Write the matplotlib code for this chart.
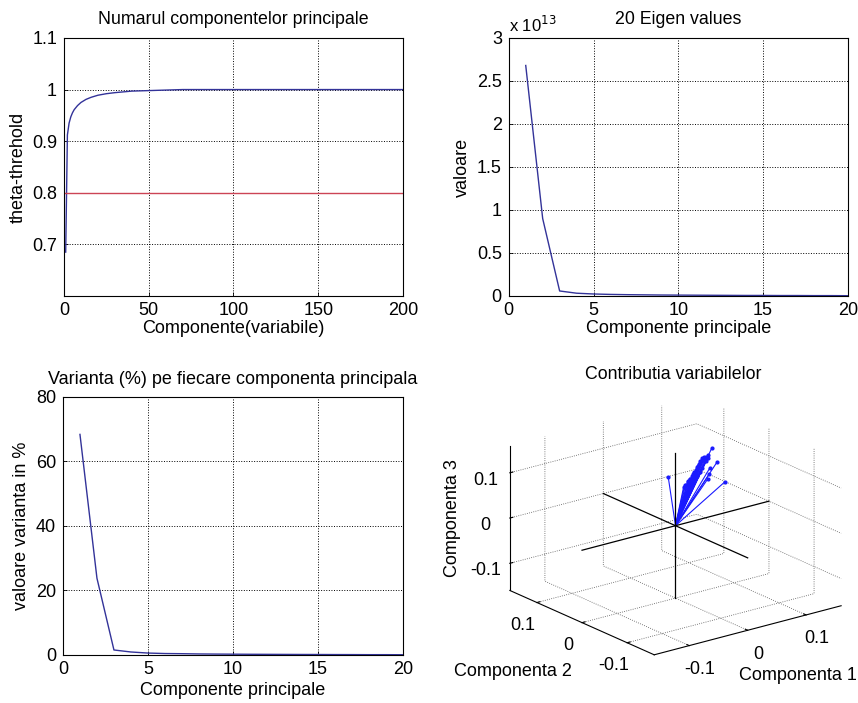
import numpy as np
import matplotlib
matplotlib.use("Agg")
import matplotlib.pyplot as plt
from matplotlib.ticker import FuncFormatter

plt.rcParams['font.family'] = ['Liberation Sans', 'DejaVu Sans']
plt.rcParams['font.size'] = 12
plt.rcParams['xtick.direction'] = 'in'
plt.rcParams['ytick.direction'] = 'in'

# cumulative explained variance (read at curve vertices)
cum_x = [1, 2, 3, 4, 5, 6, 8, 10, 13, 16, 20, 25, 30, 40, 50, 60, 70, 200]
cum_y = [0.685, 0.912, 0.935, 0.947, 0.955, 0.961, 0.969, 0.975, 0.981, 0.985, 0.989,
         0.992, 0.994, 0.997, 0.998, 0.999, 1.0, 1.0]
threshold = 0.8

# first 20 eigenvalues
comp = list(range(1, 21))
eig_vals = [2.68e13, 0.90e13, 0.058e13, 0.032e13, 0.023e13, 0.018e13, 0.015e13, 0.013e13,
            0.011e13, 0.010e13, 0.009e13, 0.008e13, 0.007e13, 0.006e13, 0.006e13, 0.005e13,
            0.005e13, 0.004e13, 0.004e13, 0.003e13]

# variance per component (%)
var_pct = [68.4, 23.8, 1.55, 0.93, 0.6, 0.45, 0.4, 0.32, 0.28, 0.25, 0.22, 0.2, 0.18,
           0.16, 0.15, 0.13, 0.12, 0.1, 0.1, 0.08]

# loadings of the variables on the first three components
pc1 = [0.020, 0.100, 0.100, 0.110, 0.080, 0.040, 0.043, 0.045, 0.048, 0.050, 0.052, 0.055,
       0.057, 0.060, 0.062, 0.064, 0.066, 0.068, 0.070, 0.072, 0.074, 0.076, 0.078, 0.080,
       0.082, 0.084, 0.086, 0.088, 0.085, 0.090, 0.075, 0.070, 0.065, 0.058, 0.092, 0.085,
       0.090]
pc2 = [0.042, 0.049, 0.038, 0.033, 0.032, 0.034, 0.035, 0.036, 0.035, 0.037, 0.036, 0.038,
       0.037, 0.038, 0.040, 0.039, 0.040, 0.041, 0.040, 0.042, 0.041, 0.043, 0.042, 0.044,
       0.043, 0.045, 0.044, 0.046, 0.042, 0.045, 0.038, 0.036, 0.037, 0.033, 0.046, 0.035,
       0.040]
pc3 = [0.082, 0.116, 0.089, 0.045, 0.062, 0.056, 0.060, 0.058, 0.064, 0.066, 0.070, 0.068,
       0.074, 0.076, 0.080, 0.078, 0.084, 0.088, 0.090, 0.094, 0.096, 0.098, 0.100, 0.102,
       0.104, 0.100, 0.098, 0.102, 0.095, 0.100, 0.085, 0.080, 0.072, 0.066, 0.104, 0.070,
       0.080]
lim3 = 0.16

line_blue = '#333399'
grid_kw = dict(color='k', linestyle=':', linewidth=0.7)

fig = plt.figure(figsize=(8.58, 7.03), dpi=100)


def style2d(ax):
    ax.grid(True, **grid_kw)
    for s in ax.spines.values():
        s.set_linewidth(0.8)
    ax.tick_params(length=3, width=0.6, labelsize=13, top=False, right=False)
    ax.tick_params(axis='x', pad=4)
    ax.tick_params(axis='y', pad=5)


ax1 = fig.add_axes([0.0746, 0.579, 0.395, 0.367])
ax1.plot(cum_x, cum_y, color=line_blue, lw=1.0)
ax1.plot([0, 200], [threshold, threshold], color='#cc4455', lw=1.0)
ax1.set_xlim(0, 200)
ax1.set_ylim(0.6, 1.1)
ax1.set_yticks([0.7, 0.8, 0.9, 1.0, 1.1])
ax1.set_yticklabels(['0.7', '0.8', '0.9', '1', '1.1'])
ax1.set_xticks([0, 50, 100, 150, 200])
ax1.set_title('Numarul componentelor principale', fontsize=12.8, pad=10)
ax1.set_xlabel('Componente(variabile)', fontsize=13, labelpad=1)
ax1.set_ylabel('theta-threhold', fontsize=13)
style2d(ax1)

ax2 = fig.add_axes([0.593, 0.579, 0.395, 0.367])
ax2.plot(comp, eig_vals, color=line_blue, lw=1.0)
ax2.set_xlim(0, 20)
ax2.set_ylim(0, 3e13)
ax2.set_xticks([0, 5, 10, 15, 20])
ax2.set_yticks(np.arange(0, 3.01e13, 0.5e13))
ax2.yaxis.set_major_formatter(FuncFormatter(lambda v, p: f"{v / 1e13:g}"))
ax2.text(0.0, 1.01, 'x 10$^{13}$', transform=ax2.transAxes, fontsize=12, ha='left', va='bottom')
ax2.set_title('20 Eigen values', fontsize=12.8, pad=10)
ax2.set_xlabel('Componente principale', fontsize=13, labelpad=1)
ax2.set_ylabel('valoare', fontsize=13)
style2d(ax2)

ax3 = fig.add_axes([0.0734, 0.0683, 0.396, 0.367])
ax3.plot(comp, var_pct, color=line_blue, lw=1.0)
ax3.set_xlim(0, 20)
ax3.set_ylim(0, 80)
ax3.set_xticks([0, 5, 10, 15, 20])
ax3.set_yticks([0, 20, 40, 60, 80])
ax3.set_title('Varianta (%) pe fiecare componenta principala', fontsize=13, pad=9)
ax3.set_xlabel('Componente principale', fontsize=13, labelpad=3)
ax3.set_ylabel('valoare varianta in %', fontsize=13)
style2d(ax3)

ax4 = fig.add_axes([0.5422, 0.016, 0.48, 0.46], projection='3d')
ax4.set_proj_type('ortho')
ax4.view_init(elev=20, azim=-127.5)
ax4.set_box_aspect((1.59, 1.6, 1.04), zoom=1.105)
for i in range(len(pc1)):
    ax4.plot([0, pc1[i]], [0, pc2[i]], [0, pc3[i]], color='#1a1aff', lw=0.8)
ax4.plot(pc1, pc2, pc3, linestyle='none', marker='.', color='#1a1aff', ms=4)
ax4.plot([-lim3, lim3], [0, 0], [0, 0], color='k', lw=0.9)
ax4.plot([0, 0], [-lim3, lim3], [0, 0], color='k', lw=0.9)
ax4.plot([0, 0], [0, 0], [-lim3, lim3], color='k', lw=0.9)
ax4.set_xlim(-lim3, lim3)
ax4.set_ylim(-lim3, lim3)
ax4.set_zlim(-lim3, lim3)
for axis in (ax4.xaxis, ax4.yaxis, ax4.zaxis):
    axis.set_ticks([-0.1, 0, 0.1])
    axis.set_ticklabels(['-0.1', '0', '0.1'])
    axis.set_pane_color((1, 1, 1, 0))
    axis.pane.set_edgecolor('none')
    axis.line.set_color('k')
    axis.line.set_linewidth(0.8)
    axis._axinfo['grid'].update(color='#555555', linestyle=':', linewidth=0.6)
    axis._axinfo['tick']['inward_factor'] = 0.0
    axis._axinfo['tick']['outward_factor'] = 0.2
ax4.tick_params(labelsize=13, pad=1)
fig.text(452 / 858, 1 - 518 / 703, 'Componenta 3', fontsize=13, rotation=90,
         ha='center', va='center')
fig.text(513 / 858, 1 - 672 / 703, 'Componenta 2', fontsize=13, ha='center', va='center')
fig.text(798 / 858, 1 - 675 / 703, 'Componenta 1', fontsize=13, ha='center', va='center')
fig.text(673 / 858, 1 - 375 / 703, 'Contributia variabilelor', fontsize=12.8,
         ha='center', va='center')

fig.savefig('out.png', dpi=100, facecolor='white')
